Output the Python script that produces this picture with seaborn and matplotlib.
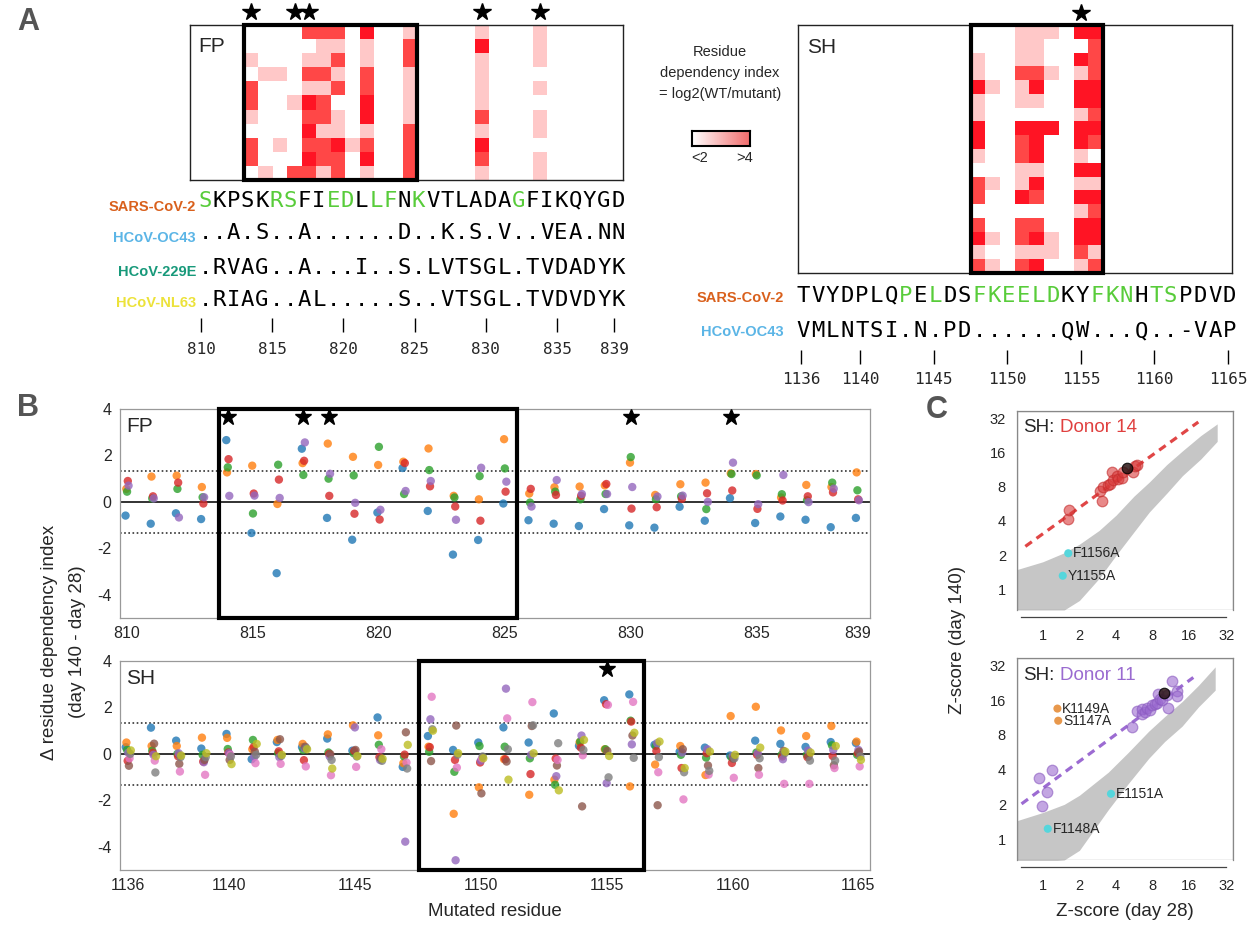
import numpy as np
import pandas as pd
import matplotlib
matplotlib.use("Agg")
import matplotlib.pyplot as plt
import seaborn as sns
from matplotlib.colors import ListedColormap, LinearSegmentedColormap
from matplotlib.patches import Rectangle

# ======================= DATA =======================
fp_residues = list(range(810, 840))
sh_residues = list(range(1136, 1166))

# --- Panel A: sequences
fp_species = ["SARS-CoV-2", "HCoV-OC43", "HCoV-229E", "HCoV-NL63"]
fp_species_colors = ["#d9601c", "#5bb5e6", "#17997a", "#ece23a"]
fp_sequences = ["SKPSKRSFIEDLLFNKVTLADAGFIKQYGD",
                "..A.S..A......D..K.S.V..VEA.NN",
                ".RVAG..A...I..S.LVTSGL.TVDADYK",
                ".RIAG..AL.....S..VTSGL.TVDVDYK"]
fp_green = [810, 815, 816, 819, 820, 822, 823, 825, 832]
fp_seq_ticks = [810, 815, 820, 825, 830, 835, 839]

sh_species = ["SARS-CoV-2", "HCoV-OC43"]
sh_species_colors = ["#d9601c", "#5bb5e6"]
sh_sequences = ["TVYDPLQPELDSFKEELDKYFKNHTSPDVD",
                "VMLNTSI.N.PD......QW...Q..-VAP"]
sh_green = [1143, 1145, 1148, 1149, 1150, 1151, 1152, 1153, 1156, 1157, 1158, 1160, 1161]
sh_seq_ticks = [1136, 1140, 1145, 1150, 1155, 1160, 1165]

# --- Panel A: heatmaps (levels 0 = <2 ... 3 = >4)
fp_box = (814, 825)
fp_box_rows = ["000022203001", "000001101002", "100011201002", "011022102001",
               "200011202001", "200132003001", "100022103001", "000031101002",
               "201022312002", "200032203002", "010221201002"]
fp_col830 = [1, 3, 1, 1, 1, 1, 2, 1, 3, 2, 1]
fp_col834 = [1, 1, 1, 0, 1, 0, 1, 1, 0, 1, 1]
fp_stars = [814, 817, 818, 830, 834]

sh_box = (1148, 1156)
sh_box_rows = ["000111033", "000110002", "100110032", "100221012", "310130033",
               "100110033", "100000012", "300333033", "300230032", "100230010",
               "000110033", "210130011", "200320033", "000000012", "200220033",
               "310231033", "100111021", "210230012"]
sh_stars = [1155]

# --- Panel B: delta residue dependency index
sig_threshold = 1.32
fp_series = ["blue", "orange", "green", "red", "purple"]
fp_blue = [-0.59, -0.94, -0.49, -0.74, 2.66, -1.34, -3.07, 2.29, -0.69, -1.63, -0.46, 1.46, -0.39, -2.27, -1.64,
           -0.07, -0.79, -0.94, -1.04, -0.31, -1.01, -1.11, -0.21, -0.81, 0.16, -0.91, -0.63, -0.77, -1.09, -0.69]
fp_orange = [0.56, 1.09, 1.13, 0.64, 1.27, 1.56, -0.09, 1.67, 2.51, 1.94, 1.59, 1.73, 2.3, 0.26, 0.11,
             2.7, 0.36, 0.63, 0.66, 0.71, 1.69, 0.3, 0.76, 0.83, 1.23, 1.2, 0.19, 0.73, 0.64, 1.27]
fp_green_vals = [0.44, 0.15, 0.56, 0.2, 1.49, -0.5, 1.6, 1.16, 1.0, 1.14, 2.37, 0.34, 1.37, 0.19, 1.11,
                 1.44, -0.03, 0.44, 0.11, 0.34, 1.93, 0.11, 0.24, -0.31, 1.2, 1.14, 0.33, 0.07, 0.83, 0.5]
fp_red = [0.9, 0.24, 0.83, -0.07, 1.84, 0.36, 0.96, 1.77, 0.26, -0.51, -0.76, 1.67, 0.67, -0.2, -0.81,
          0.44, 0.56, 0.3, 0.26, 0.77, -0.29, -0.23, 0.13, 0.37, 0.49, -0.3, 0.06, 0.24, 0.41, 0.11]
fp_purple = [0.7, 0.15, -0.67, 0.2, 0.26, 0.27, 0.17, 2.56, 1.21, -0.04, -0.34, 0.47, 0.9, -0.77, 1.47,
             0.87, -0.2, 0.94, 0.34, 0.34, 0.64, 0.23, 0.27, 0.0, 1.69, -0.1, 1.16, -0.01, 0.57, 0.07]
fp_values = [fp_blue, fp_orange, fp_green_vals, fp_red, fp_purple]

sh_series = ["blue", "orange", "green", "red", "purple", "brown", "pink", "gray", "olive"]
sh_blue = [0.29, 1.13, 0.57, 0.23, 0.86, -0.23, 0.51, 0.29, 0.66, 0.14, 1.57, -0.56, 0.77, 0.17, 0.49,
           1.14, 0.49, 1.74, 0.35, 2.31, 2.56, 0.39, 0.1, 0.27, -0.07, 0.57, 0.43, 0.3, 0.51, 0.47]
sh_orange = [0.49, 0.34, 0.34, 0.7, 0.69, 0.2, 0.6, 0.43, 0.84, 1.23, 0.8, -0.4, 0.31, -2.58, -1.44,
             -0.23, -1.76, -1.11, 0.5, 0.2, -1.4, -0.46, 0.34, -0.91, 1.63, 2.03, 1.01, 0.77, 1.2, 0.53]
sh_green_vals = [0.17, 0.14, 0.0, -0.04, 0.21, 0.6, 0.03, 0.17, 0.06, 0.03, 0.39, -0.11, 0.09, -0.77, 0.34,
                 0.31, -0.19, -1.33, 0.53, 0.2, 1.43, 0.34, -0.04, -0.16, -0.14, 0.06, -0.04, -0.04, 0.37, -0.04]
sh_red = [-0.3, 0.05, -0.1, -0.33, 0.06, 0.29, 0.11, -0.27, 0.0, 0.13, -0.14, -0.03, 0.29, -0.26, -0.37,
          -0.23, -0.87, -0.2, 0.27, 2.14, 1.39, 0.13, -0.61, 0.03, -0.39, -0.04, -0.11, -0.14, -0.09, 0.03]
sh_purple = [0.05, -0.04, 0.03, -0.36, 0.03, -0.14, -0.14, 0.24, -0.11, 1.14, -0.26, -3.78, 1.49, -4.58, -0.29,
             2.81, -0.04, -0.96, 0.79, -1.26, 0.41, 0.46, 0.06, 0.2, -0.1, 0.03, -0.23, 0.14, 0.17, 0.17]
sh_brown = [-0.51, 0.44, -0.43, -0.26, -0.26, 0.1, 0.63, 0.31, -0.01, 0.17, -0.19, 0.93, -0.31, 1.22, -1.7,
            -0.33, 1.2, -0.5, -2.26, 0.13, 0.79, -2.21, 0.2, -0.5, -0.21, -0.61, 0.13, -0.11, -0.49, 0.1]
sh_pink = [-0.19, -0.29, -0.76, -0.9, -0.04, -0.4, -0.43, -0.54, -0.92, -0.56, 0.2, -0.37, 2.46, -0.59, -0.19,
           1.53, 2.23, -0.26, -0.06, 2.11, 2.24, -0.79, -1.96, -0.89, -1.03, -0.9, -1.29, -1.29, -0.61, -0.54]
sh_gray = [0.0, -0.8, -0.14, -0.14, -0.11, -0.04, -0.09, 0.24, -0.26, -0.11, -0.3, -0.63, 1.06, -0.04, -0.11,
           0.2, 1.23, 0.46, 0.17, -1.01, -0.17, -0.14, -0.79, -0.73, -0.19, -0.19, 0.03, -0.29, -0.29, -0.11]
sh_olive = [0.15, -0.1, -0.07, 0.03, -0.44, 0.43, -0.04, 0.2, -0.63, -0.09, -0.21, 0.39, 1.0, 0.03, -0.19,
            -1.11, 0.03, -1.57, 0.6, -0.09, 0.91, 0.53, -0.61, 0.1, -0.04, 0.27, 0.1, 0.06, 0.34, -0.26]
sh_values = [sh_blue, sh_orange, sh_green_vals, sh_red, sh_purple, sh_brown, sh_pink, sh_gray, sh_olive]

fp_b_ticks = [810, 815, 820, 825, 830, 835, 839]
sh_b_ticks = [1136, 1140, 1145, 1150, 1155, 1160, 1165]
b_yticks = [4, 2, 0, -2, -4]

# --- Panel C: Z-scores (shown on log2 axes)
z_ticks = [1, 2, 4, 8, 16, 32]
# background cloud envelope (all mutants)
d14_cloud_x = [0.62, 1.0, 1.5, 2.0, 2.9, 4.0, 5.6, 7.5, 10.4, 14.0, 19.8, 27.0]
d14_cloud_lo = [0.66, 0.66, 0.66, 0.8, 1.25, 2.0, 3.2, 4.8, 7.0, 10.0, 14.0, 20.0]
d14_cloud_hi = [1.5, 1.75, 2.1, 2.5, 3.3, 4.5, 6.6, 8.8, 12.5, 16.5, 22.5, 28.5]
d14_line_x = [0.72, 18.9]
d14_line_y = [2.39, 29.6]
d14_x = [1.62, 1.65, 2.95, 3.08, 3.14, 3.45, 3.56, 3.68, 3.8, 4.05, 4.17, 4.45, 4.58, 5.47, 5.72, 5.9]
d14_y = [4.2, 5.0, 7.3, 6.0, 7.9, 8.2, 8.5, 10.7, 9.1, 9.9, 9.4, 9.5, 10.7, 10.7, 12.1, 12.5]
d14_black = (4.88, 11.6)
d14_labels = ["F1156A", "Y1155A"]
d14_label_x = [1.62, 1.46]
d14_label_y = [2.08, 1.32]
d14_label_colors = ["#55d6dc", "#55d6dc"]

d11_cloud_x = [0.62, 1.0, 1.5, 2.0, 3.45, 5.0, 7.4, 10.0, 13.9, 19.0, 26.0]
d11_cloud_lo = [0.64, 0.64, 0.66, 0.8, 1.8, 3.0, 5.0, 7.0, 9.5, 14.0, 19.5]
d11_cloud_hi = [1.45, 1.7, 2.0, 2.4, 3.8, 5.6, 8.6, 11.5, 15.5, 21.5, 31.0]
d11_line_x = [0.67, 17.2]
d11_line_y = [2.02, 25.1]
d11_x = [0.94, 1.2, 1.09, 0.99, 5.43, 5.9, 6.5, 6.5, 6.9, 7.13, 7.6, 7.84, 8.34, 8.6, 8.88, 9.17, 9.6,
         10.4, 10.7, 11.4, 12.6, 12.6]
d11_y = [3.4, 4.0, 2.57, 1.92, 9.4, 12.9, 12.1, 13.3, 12.6, 13.6, 13.2, 14.5, 14.9, 15.2, 18.2, 16.3, 16.0,
         17.8, 13.6, 23.5, 19.2, 17.4]
d11_black = (9.87, 18.5)
d11_labels = ["K1149A", "S1147A", "E1151A", "F1148A"]
d11_label_x = [1.32, 1.34, 3.63, 1.1]
d11_label_y = [13.5, 10.6, 2.47, 1.23]
d11_label_colors = ["#e8984c", "#e8984c", "#55d6dc", "#55d6dc"]

# ======================= STYLE =======================
sns.set_style("white")
plt.rcParams["font.family"] = ["Liberation Sans", "DejaVu Sans"]
MONO = "DejaVu Sans Mono"
tab = sns.color_palette("tab10")
color_map = {"blue": tab[0], "orange": tab[1], "green": tab[2], "red": tab[3], "purple": tab[4],
             "brown": tab[5], "pink": tab[6], "gray": tab[7], "olive": tab[8]}
heat_cmap = ListedColormap(["#ffffff", "#ffc8c8", "#ff4747", "#ff1424"])
SEQ_GREEN = "#58cc3a"

W, H = 1247, 927
fig = plt.figure(figsize=(W / 100, H / 100), dpi=100)


def px_axes(l, t, r, b):
    return fig.add_axes([l / W, 1 - b / H, (r - l) / W, (b - t) / H])


over = px_axes(0, 0, W, H)
over.set_xlim(0, W)
over.set_ylim(H, 0)
over.axis("off")

# panel letters
for letter, (lx, ly) in zip("ABC", [(28, 22), (28, 408), (937, 410)]):
    over.text(lx, ly, letter, fontsize=22, fontweight="bold", color="#555555", ha="center", va="center")


# ======================= PANEL A =======================
def build_matrix(residues, box, box_rows, extra_cols):
    mat = np.zeros((len(box_rows), len(residues)), dtype=int)
    c0 = residues.index(box[0])
    for i, row in enumerate(box_rows):
        for j, ch in enumerate(row):
            mat[i, c0 + j] = int(ch)
        for res, col in extra_cols:
            mat[i, residues.index(res)] = col[i]
    return mat


def draw_heat(ax, mat, residues, xlim, box, stars, star_y, label, label_y):
    df = pd.DataFrame(mat, columns=residues)
    sns.heatmap(df, ax=ax, cmap=heat_cmap, vmin=-0.5, vmax=3.5, cbar=False,
                xticklabels=False, yticklabels=False)
    ax.set_xlim(*xlim)
    ax.set_ylim(mat.shape[0], 0)
    for s in ax.spines.values():
        s.set_visible(True)
        s.set_color("#222222")
        s.set_linewidth(1.0)
    c0 = residues.index(box[0])
    c1 = residues.index(box[1]) + 1
    ax.add_patch(Rectangle((c0, 0), c1 - c0, mat.shape[0], fill=False, ec="black",
                           lw=3, clip_on=False, zorder=5))
    ax.plot([residues.index(s) + 0.5 for s in stars], [star_y] * len(stars), ls="none",
            marker="*", ms=13, color="black", clip_on=False)
    ax.text(0.02, label_y, label, transform=ax.transAxes, fontsize=15, va="center", ha="left")


fp_mat = build_matrix(fp_residues, fp_box, fp_box_rows, [(830, fp_col830), (834, fp_col834)])
ax_fp_h = px_axes(190, 25, 623, 180)
fp_xlim_cells = (0.26, 30.25)
draw_heat(ax_fp_h, fp_mat, fp_residues, fp_xlim_cells, fp_box, fp_stars, -0.9, "FP", 0.86)

sh_mat = build_matrix(sh_residues, sh_box, sh_box_rows, [])
ax_sh_h = px_axes(798, 25, 1232, 273)
sh_xlim_cells = (0.27, 29.77)
draw_heat(ax_sh_h, sh_mat, sh_residues, sh_xlim_cells, sh_box, sh_stars, -0.85, "SH", 0.91)


def draw_seq(ax, residues, species, colors, seqs, green, ticks, row_y, tick_y, lab_y,
             label_right, letter_shift):
    ax.set_ylim(lab_y + 15, row_y[0] - 15)
    ax.axis("off")
    for sp, col, seq, y in zip(species, colors, seqs, row_y):
        for r, ch in zip(residues, seq):
            c = SEQ_GREEN if (sp == species[0] and r in green) else "black"
            ax.text(r + letter_shift, y, ch, fontsize=16, family=MONO, color=c,
                    ha="center", va="center")
        over.text(label_right, y, sp, fontsize=10.5, fontweight="bold", color=col,
                  ha="right", va="center")
    ax.vlines(ticks, tick_y[0], tick_y[1], color="black", lw=1)
    for t in ticks:
        ax.text(t, lab_y, str(t), fontsize=11.5, family=MONO, ha="center", va="center")


ax_fp_s = px_axes(190, 185, 623, 365)
ax_fp_s.set_xlim(809.23, 839.63)
draw_seq(ax_fp_s, fp_residues, fp_species, fp_species_colors, fp_sequences, fp_green,
         fp_seq_ticks, [207, 238, 272, 303], (320, 333), 350, 196, 0.28)

ax_sh_s = px_axes(798, 280, 1232, 395)
ax_sh_s.set_xlim(1135.5 + sh_xlim_cells[0], 1135.5 + sh_xlim_cells[1])
draw_seq(ax_sh_s, sh_residues, sh_species, sh_species_colors, sh_sequences, sh_green,
         sh_seq_ticks, [298, 332], (350, 363), 378, 784, 0.1)

# colour key
over.text(720, 52, "Residue", fontsize=10.5, ha="center", va="center")
over.text(720, 73, "dependency index", fontsize=10.5, ha="center", va="center")
over.text(720, 94, "= log2(WT/mutant)", fontsize=10.5, ha="center", va="center")
ax_key = px_axes(692, 131, 750, 146)
grad = np.linspace(0, 1, 100).reshape(1, -1)
ax_key.imshow(grad, aspect="auto", cmap=LinearSegmentedColormap.from_list("k", ["#ffffff", "#f26d6d"]))
ax_key.set_xticks([])
ax_key.set_yticks([])
for s in ax_key.spines.values():
    s.set_visible(True)
    s.set_color("black")
    s.set_linewidth(1.5)
over.text(700, 158, "<2", fontsize=10.5, ha="center", va="center")
over.text(745, 158, ">4", fontsize=10.5, ha="center", va="center")


# ======================= PANEL B =======================
def draw_b(ax, residues, series, values, xlim, box, stars, ticks, label, spread):
    offs = np.linspace(-spread, spread, len(series))
    rows = []
    for k, (name, vals) in enumerate(zip(series, values)):
        for r, v in zip(residues, vals):
            rows.append((r + offs[k], v, name))
    df = pd.DataFrame(rows, columns=["x", "y", "series"])
    ax.axhline(0, color="#222222", lw=1.3, zorder=1)
    for sgn in (1, -1):
        ax.axhline(sgn * sig_threshold, color="#333333", lw=1.2, ls=(0, (1, 1.5)), zorder=1)
    sns.scatterplot(data=df, x="x", y="y", hue="series", palette=color_map, s=36, alpha=0.8,
                    edgecolor="none", legend=False, ax=ax, zorder=3)
    ax.set_xlim(*xlim)
    ax.set_ylim(-5, 4)
    ax.add_patch(Rectangle((box[0], -5), box[1] - box[0], 9, fill=False, ec="black", lw=3,
                           clip_on=False, zorder=6))
    ax.plot(stars, [3.65] * len(stars), ls="none", marker="*", ms=12, color="black", zorder=7)
    ax.set_xticks(ticks)
    ax.set_xticklabels([str(t) for t in ticks])
    ax.set_yticks(b_yticks)
    ax.set_yticklabels([str(t) for t in b_yticks])
    ax.tick_params(labelsize=11.5, length=3, color="#888888", pad=3)
    ax.set_xlabel("")
    ax.set_ylabel("")
    for s in ax.spines.values():
        s.set_color("#999999")
        s.set_linewidth(0.9)
    ax.text(0.008, 0.915, label, transform=ax.transAxes, fontsize=15, va="center", ha="left")


ax_b1 = px_axes(120, 409, 870, 618)
draw_b(ax_b1, fp_residues, fp_series, fp_values, (809.72, 839.5), (813.65, 825.5), fp_stars,
       fp_b_ticks, "FP", 0.06)
ax_b2 = px_axes(120, 661, 870, 870)
draw_b(ax_b2, sh_residues, sh_series, sh_values, (1135.67, 1165.46), (1147.55, 1156.5), sh_stars,
       sh_b_ticks, "SH", 0.1)

over.text(50, 642, "\u0394 residue dependency index", rotation=90, fontsize=13.5, ha="center", va="center")
over.text(77, 642, "(day 140 - day 28)", rotation=90, fontsize=13.5, ha="center", va="center")
over.text(495, 912, "Mutated residue", fontsize=13.5, ha="center", va="center")


# ======================= PANEL C =======================
L2 = np.log2


def draw_c(ax, cx, clo, chi, lx, ly, lcol, px, py, pcol, pedge, black, labs, labx, laby, labcol,
           donor, dcol):
    ax.fill_between(L2(cx), L2(clo), L2(chi), color="#c6c6c6", lw=0, zorder=1)
    sns.lineplot(x=L2(lx), y=L2(ly), ax=ax, color=lcol, lw=2.3, linestyle=(0, (2.5, 1.8)),
                 sort=False, estimator=None, zorder=2)
    sns.scatterplot(x=L2(px), y=L2(py), ax=ax, s=58, color=pcol, alpha=0.6, edgecolor=pedge,
                    linewidth=0.9, legend=False, zorder=3)
    ax.scatter([L2(black[0])], [L2(black[1])], s=58, color="#2b1515", alpha=0.85,
               edgecolor="black", linewidth=0.8, zorder=4)
    sns.scatterplot(x=L2(labx), y=L2(laby), ax=ax, s=34, hue=labs, palette=dict(zip(labs, labcol)),
                    edgecolor="none", legend=False, zorder=4)
    for n, x, y in zip(labs, labx, laby):
        ax.annotate(n, (L2(x), L2(y)), xytext=(3.5, 0), textcoords="offset points", va="center",
                    ha="left", fontsize=10, zorder=5)
    ax.set_xlim(L2(0.615), L2(36.4))
    ax.set_ylim(L2(0.66), L2(37))
    ax.set_xticks(L2(z_ticks))
    ax.set_xticklabels([str(t) for t in z_ticks])
    ax.set_yticks(L2(z_ticks))
    ax.set_yticklabels([str(t) for t in z_ticks])
    ax.tick_params(labelsize=10.5, length=4.5, color="#444444", width=0.8)
    ax.tick_params(axis="x", pad=4)
    ax.tick_params(axis="y", pad=3.5)
    ax.set_xlabel("")
    ax.set_ylabel("")
    for s in ax.spines.values():
        s.set_color("#888888")
        s.set_linewidth(0.9)
    ax.spines["bottom"].set_position(("outward", 5))
    ax.spines["bottom"].set_bounds(L2(0.66), L2(32))
    ax.spines["bottom"].set_color("#444444")
    ax.add_patch(Rectangle((0, 0), 1, 1, transform=ax.transAxes, fill=False, ec="#888888",
                           lw=0.9, zorder=6))
    ax.text(0.028, 0.915, "SH:", transform=ax.transAxes, fontsize=13.5, va="center", ha="left")
    ax.text(0.2, 0.915, donor, transform=ax.transAxes, fontsize=13.5, va="center", ha="left",
            color=dcol)


ax_c1 = px_axes(1017, 411, 1233, 610)
draw_c(ax_c1, d14_cloud_x, d14_cloud_lo, d14_cloud_hi, d14_line_x, d14_line_y, "#e04646",
       d14_x, d14_y, "#d93b3b", "#c42a2a", d14_black, d14_labels, d14_label_x, d14_label_y,
       d14_label_colors, "Donor 14", "#e0403f")
ax_c2 = px_axes(1017, 658, 1233, 860)
draw_c(ax_c2, d11_cloud_x, d11_cloud_lo, d11_cloud_hi, d11_line_x, d11_line_y, "#9c6bd2",
       d11_x, d11_y, "#9b6bd0", "#8a5ac0", d11_black, d11_labels, d11_label_x, d11_label_y,
       d11_label_colors, "Donor 11", "#9a6bd0")

over.text(958, 640, "Z-score (day 140)", rotation=90, fontsize=13.5, ha="center", va="center")
over.text(1125, 912, "Z-score (day 28)", fontsize=13.5, ha="center", va="center")

fig.savefig("out.png", dpi=100, facecolor="white")
